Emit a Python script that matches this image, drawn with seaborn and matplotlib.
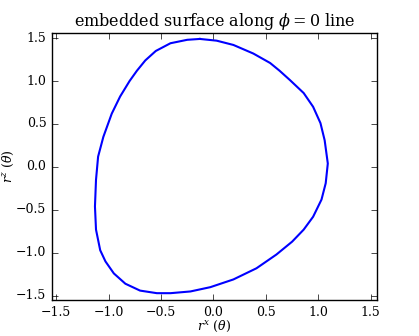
import matplotlib
matplotlib.use('Agg')
import matplotlib.pyplot as plt
import seaborn as sns
import pandas as pd

# curve points (closed loop, clockwise from the top)
r_x = [-0.13, 0.03, 0.19, 0.38, 0.54, 0.63, 0.73, 0.86, 0.95, 1.02, 1.06, 1.09,
       1.07, 1.03, 0.95, 0.86, 0.75, 0.60, 0.41, 0.19, -0.03, -0.22, -0.41,
       -0.54, -0.70, -0.84, -0.95, -1.03, -1.08, -1.12, -1.13, -1.12, -1.10,
       -1.05, -0.97, -0.89, -0.80, -0.73, -0.65, -0.55, -0.41, -0.25, -0.13]
r_z = [1.49, 1.47, 1.42, 1.32, 1.21, 1.12, 1.01, 0.86, 0.70, 0.51, 0.31, 0.04,
       -0.19, -0.38, -0.58, -0.73, -0.87, -1.02, -1.18, -1.31, -1.40, -1.45,
       -1.47, -1.47, -1.44, -1.36, -1.24, -1.10, -0.97, -0.73, -0.46, -0.15,
       0.12, 0.35, 0.62, 0.82, 1.00, 1.12, 1.24, 1.35, 1.44, 1.48, 1.49]
ticks = [-1.5, -1.0, -0.5, 0.0, 0.5, 1.0, 1.5]

df = pd.DataFrame({'rx': r_x, 'rz': r_z})

plt.style.use('classic')
plt.rcParams['font.family'] = ['DejaVu Serif']
plt.rcParams['mathtext.fontset'] = 'dejavuserif'
plt.rcParams['font.size'] = 9

fig = plt.figure(figsize=(4.19, 3.36), dpi=100, facecolor='white')
ax = fig.add_axes([0.124, 0.107, 0.776, 0.795])

sns.lineplot(data=df, x='rx', y='rz', sort=False, estimator=None,
             color='blue', linewidth=1.5, ax=ax)

ax.set_xlim(-1.54, 1.56)
ax.set_ylim(-1.55, 1.56)
ax.set_xticks(ticks)
ax.set_yticks(ticks)
ax.tick_params(labelsize=9, length=4)

ax.set_title(r'embedded surface along $\phi=0$ line', fontsize=11.5)
ax.set_xlabel(r'$r^x\ (\theta)$', fontsize=9, labelpad=0)
ax.set_ylabel(r'$r^z\ (\theta)$', fontsize=9)
ax.yaxis.set_label_coords(-0.11, 0.5)

fig.savefig('out.png', dpi=100, facecolor='white')
